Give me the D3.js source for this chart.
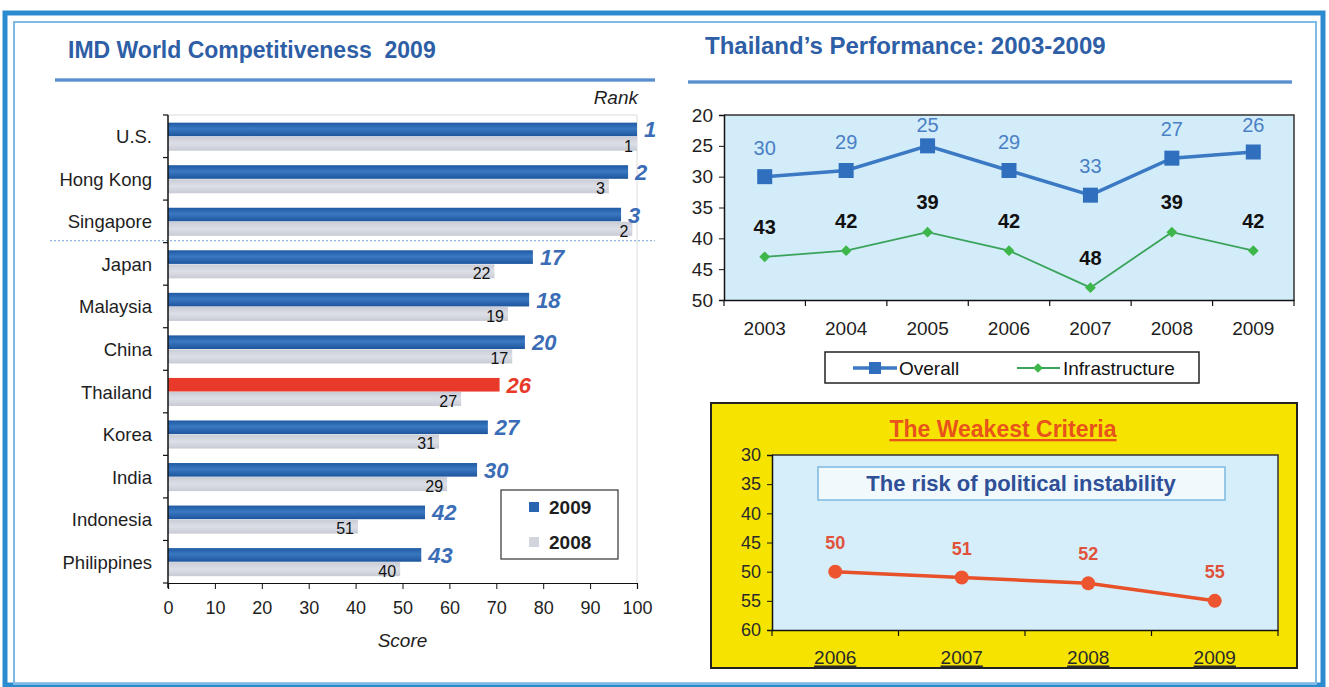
<!DOCTYPE html>
<html>
<head>
<meta charset="utf-8">
<script src="https://cdn.jsdelivr.net/npm/d3@7"></script>
<style>
  body { margin: 0; background: #fff; }
  text { font-family: Arial, "Liberation Sans", sans-serif; }
</style>
</head>
<body>
<script>

// ==== data ====
var countries = ["U.S.", "Hong Kong", "Singapore", "Japan", "Malaysia", "China",
                 "Thailand", "Korea", "India", "Indonesia", "Philippines"];
var score2009 = [100, 98.1, 96.6, 77.8, 77.0, 76.1, 70.7, 68.2, 65.9, 54.8, 54.0];
var score2008 = [100, 94.0, 99.0, 69.6, 72.5, 73.4, 62.5, 57.8, 59.5, 40.5, 49.5];
var rank2009 = [1, 2, 3, 17, 18, 20, 26, 27, 30, 42, 43];
var rank2008 = [1, 3, 2, 22, 19, 17, 27, 31, 29, 51, 40];
var scoreTicks = [0, 10, 20, 30, 40, 50, 60, 70, 80, 90, 100];

var years = ["2003", "2004", "2005", "2006", "2007", "2008", "2009"];
var overall = [30, 29, 25, 29, 33, 27, 26];
var infra = [43, 42, 39, 42, 48, 39, 42];
var perfTicks = [20, 25, 30, 35, 40, 45, 50];

var weakYears = ["2006", "2007", "2008", "2009"];
var weakRank = [50, 51, 52, 55];
var weakTicks = [30, 35, 40, 45, 50, 55, 60];


var W = 1329, H = 687;

var title_col = "#2d5ea6",
    bar_blue = "#2a66b0",
    bar_red = "#e8392b",
    bar_gray = "#d2d5dd",
    rank_blue = "#3b6db6",
    txt = "#1e1e1e",
    font = "Arial, 'Liberation Sans', sans-serif";

var svg = d3.select("body")
    .append("svg")
    .attr("width", W)
    .attr("height", H);

var defs = svg.append("defs");

var gBlue = defs.append("linearGradient").attr("id", "gBlue")
    .attr("x1", 0).attr("y1", 0).attr("x2", 0).attr("y2", 1);
gBlue.append("stop").attr("offset", "0%").attr("stop-color", "#1f5aa3");
gBlue.append("stop").attr("offset", "45%").attr("stop-color", "#3a78c2");
gBlue.append("stop").attr("offset", "100%").attr("stop-color", "#1d559c");

var gGray = defs.append("linearGradient").attr("id", "gGray")
    .attr("x1", 0).attr("y1", 0).attr("x2", 0).attr("y2", 1);
gGray.append("stop").attr("offset", "0%").attr("stop-color", "#c9ccd6");
gGray.append("stop").attr("offset", "50%").attr("stop-color", "#dcdfe6");
gGray.append("stop").attr("offset", "100%").attr("stop-color", "#c8cbd4");

var gRule = defs.append("linearGradient").attr("id", "gRule")
    .attr("x1", 0).attr("y1", 0).attr("x2", 0).attr("y2", 1);
gRule.append("stop").attr("offset", "0%").attr("stop-color", "#a9c6e8");
gRule.append("stop").attr("offset", "50%").attr("stop-color", "#3f7cc4");
gRule.append("stop").attr("offset", "100%").attr("stop-color", "#a9c6e8");

// ==== outer frame ====
svg.append("rect")
    .attr("x", 5).attr("y", 13)
    .attr("width", 1318).attr("height", 672)
    .attr("fill", "none")
    .attr("stroke", "#2c8bcf")
    .attr("stroke-width", 5);

svg.append("rect")
    .attr("x", 14).attr("y", 22)
    .attr("width", 1302).attr("height", 662)
    .attr("fill", "none")
    .attr("stroke", "#7dbbe6")
    .attr("stroke-width", 2);

// ==== titles ====
svg.append("text")
    .text("IMD World Competitiveness  2009")
    .attr("x", 68).attr("y", 58)
    .attr("font-size", "23px")
    .attr("font-weight", 700)
    .attr("fill", title_col)
    .style("white-space", "pre");

svg.append("rect")
    .attr("x", 55).attr("y", 78)
    .attr("width", 600).attr("height", 4)
    .attr("fill", "url(#gRule)");

svg.append("text")
    .text("Thailand\u2019s Performance: 2003-2009")
    .attr("x", 705).attr("y", 54)
    .attr("font-size", "24px")
    .attr("font-weight", 700)
    .attr("fill", title_col);

svg.append("rect")
    .attr("x", 688).attr("y", 80)
    .attr("width", 604).attr("height", 4)
    .attr("fill", "url(#gRule)");


// ==== left: bar chart ====
var bx0 = 168, bx1 = 637, by0 = 115, by1 = 583;

var xScore = d3.scaleLinear()
    .domain([0, 100])
    .range([bx0, bx1]);

var yCountry = d3.scaleBand()
    .domain(countries)
    .range([by0, by1]);

var bw = yCountry.bandwidth();

var left = svg.append("g");

// plot frame (light)
left.append("path")
    .attr("d", "M" + bx0 + "," + by0 + "H" + bx1 + "V" + by1)
    .attr("fill", "none")
    .attr("stroke", "#dcdcdc")
    .attr("stroke-width", 1);

// separator between top 3 and the rest
left.append("line")
    .attr("x1", 50).attr("x2", 655)
    .attr("y1", yCountry("Japan") - 2).attr("y2", yCountry("Japan") - 2)
    .attr("stroke", "#8fb4dc")
    .attr("stroke-width", 1.2)
    .attr("stroke-dasharray", "2,2");

var rows = left.selectAll("g.row")
    .data(countries)
    .enter().append("g")
    .attr("class", "row")
    .attr("transform", function(d) { return "translate(0," + yCountry(d) + ")"; });

rows.append("rect")
    .attr("x", bx0)
    .attr("y", bw * 0.18)
    .attr("width", function(d, i) { return xScore(score2009[i]) - bx0; })
    .attr("height", bw * 0.32)
    .attr("fill", function(d) { return d == "Thailand" ? bar_red : "url(#gBlue)"; });

rows.append("rect")
    .attr("x", bx0)
    .attr("y", bw * 0.51)
    .attr("width", function(d, i) { return xScore(score2008[i]) - bx0; })
    .attr("height", bw * 0.33)
    .attr("fill", "url(#gGray)");

rows.append("text")
    .text(function(d, i) { return rank2009[i]; })
    .attr("x", function(d, i) { return xScore(score2009[i]) + 7; })
    .attr("y", bw * 0.34 + 8)
    .attr("font-size", "22px")
    .attr("font-weight", 700)
    .attr("font-style", "italic")
    .attr("fill", function(d) { return d == "Thailand" ? bar_red : rank_blue; });

rows.append("text")
    .text(function(d, i) { return rank2008[i]; })
    .attr("x", function(d, i) { return xScore(score2008[i]) - 4; })
    .attr("y", bw * 0.86)
    .attr("text-anchor", "end")
    .attr("font-size", "16px")
    .attr("fill", "#111");

rows.append("text")
    .text(function(d) { return d; })
    .attr("x", 152)
    .attr("y", bw * 0.5 + 7)
    .attr("text-anchor", "end")
    .attr("font-size", "18.5px")
    .attr("fill", txt);

// axes
left.append("line")
    .attr("x1", bx0).attr("x2", bx0)
    .attr("y1", by0).attr("y2", by1 + 5)
    .attr("stroke", "#111").attr("stroke-width", 1.5);

left.selectAll("line.ytick")
    .data(countries.concat(["end"]))
    .enter().append("line")
    .attr("class", "ytick")
    .attr("x1", bx0 - 5).attr("x2", bx0)
    .attr("y1", function(d) { return d == "end" ? by1 : yCountry(d); })
    .attr("y2", function(d) { return d == "end" ? by1 : yCountry(d); })
    .attr("stroke", "#111").attr("stroke-width", 1.2);

var xAxis = left.append("g")
    .attr("transform", "translate(0," + by1 + ")")
    .call(d3.axisBottom(xScore).tickValues(scoreTicks).tickSize(6).tickPadding(12));
xAxis.select(".domain").attr("stroke", "#111").attr("stroke-width", 1.2);
xAxis.selectAll(".tick line").attr("stroke", "#111");
xAxis.selectAll("text")
    .attr("font-size", "18px")
    .attr("font-family", font)
    .attr("fill", txt);

left.append("text")
    .text("Score")
    .attr("x", xScore(50)).attr("y", 647)
    .attr("text-anchor", "middle")
    .attr("font-size", "19px")
    .attr("font-style", "italic")
    .attr("fill", txt);

left.append("text")
    .text("Rank")
    .attr("x", 638).attr("y", 104)
    .attr("text-anchor", "end")
    .attr("font-size", "19px")
    .attr("font-style", "italic")
    .attr("fill", txt);

// legend
var leg = left.append("g").attr("transform", "translate(501,490)");
leg.append("rect")
    .attr("width", 117).attr("height", 69)
    .attr("fill", "#fff")
    .attr("stroke", "#333").attr("stroke-width", 1.2);
leg.append("rect").attr("x", 28).attr("y", 12).attr("width", 10).attr("height", 10).attr("fill", bar_blue);
leg.append("rect").attr("x", 28).attr("y", 47).attr("width", 10).attr("height", 10).attr("fill", bar_gray);
leg.append("text").text("2009").attr("x", 48).attr("y", 24)
    .attr("font-size", "19px").attr("font-weight", 700).attr("fill", txt);
leg.append("text").text("2008").attr("x", 48).attr("y", 59)
    .attr("font-size", "19px").attr("font-weight", 700).attr("fill", txt);


// ==== right top: line chart ====
var px0 = 724, px1 = 1294, py0 = 115, py1 = 300;

var xYear = d3.scaleBand()
    .domain(years)
    .range([px0, px1]);

var yRank = d3.scaleLinear()
    .domain([20, 50])
    .range([py0, py1]);

var perf = svg.append("g");

perf.append("rect")
    .attr("x", px0).attr("y", py0)
    .attr("width", px1 - px0).attr("height", py1 - py0)
    .attr("fill", "#d3ecf9");

perf.append("path")
    .attr("d", "M" + px0 + "," + py0 + "H" + px1 + "V" + py1)
    .attr("fill", "none")
    .attr("stroke", "#333").attr("stroke-width", 1.5);

var yAx = perf.append("g")
    .attr("transform", "translate(" + px0 + ",0)")
    .call(d3.axisLeft(yRank).tickValues(perfTicks).tickSize(5).tickPadding(6));
yAx.select(".domain").attr("stroke", "#111").attr("stroke-width", 1.5);
yAx.selectAll(".tick line").attr("stroke", "#111");
yAx.selectAll("text")
    .attr("font-size", "19px")
    .attr("font-family", font)
    .attr("fill", txt);

var xAx = perf.append("g")
    .attr("transform", "translate(0," + py1 + ")")
    .call(d3.axisBottom(xYear).tickSize(0).tickPadding(22));
xAx.select(".domain").attr("stroke", "#111").attr("stroke-width", 1.5);
xAx.selectAll("text")
    .attr("font-size", "19px")
    .attr("font-family", font)
    .attr("fill", txt);

perf.selectAll("line.xtick")
    .data(years.concat(["end"]))
    .enter().append("line")
    .attr("class", "xtick")
    .attr("x1", function(d) { return d == "end" ? px1 : xYear(d); })
    .attr("x2", function(d) { return d == "end" ? px1 : xYear(d); })
    .attr("y1", py1).attr("y2", py1 + 6)
    .attr("stroke", "#111").attr("stroke-width", 1.2);

var cx = function(d, i) { return xYear(years[i]) + xYear.bandwidth() / 2; };

var line = d3.line()
    .x(cx)
    .y(function(d) { return yRank(d); });

perf.append("path")
    .datum(infra)
    .attr("d", line)
    .attr("fill", "none")
    .attr("stroke", "#3aa35c")
    .attr("stroke-width", 1.8);

perf.selectAll("path.dia")
    .data(infra)
    .enter().append("path")
    .attr("class", "dia")
    .attr("d", d3.symbol().type(d3.symbolDiamond2).size(75))
    .attr("transform", function(d, i) { return "translate(" + cx(d, i) + "," + yRank(d) + ")"; })
    .attr("fill", "#3db64a");

perf.selectAll("text.infraLab")
    .data(infra)
    .enter().append("text")
    .attr("class", "infraLab")
    .text(function(d) { return d; })
    .attr("x", cx)
    .attr("y", function(d) { return yRank(d) - 23; })
    .attr("text-anchor", "middle")
    .attr("font-size", "20px")
    .attr("font-weight", 700)
    .attr("fill", "#111");

perf.append("path")
    .datum(overall)
    .attr("d", line)
    .attr("fill", "none")
    .attr("stroke", "#3b79c4")
    .attr("stroke-width", 3.5);

perf.selectAll("rect.sq")
    .data(overall)
    .enter().append("rect")
    .attr("class", "sq")
    .attr("x", function(d, i) { return cx(d, i) - 7.5; })
    .attr("y", function(d) { return yRank(d) - 7.5; })
    .attr("width", 15).attr("height", 15)
    .attr("fill", "#2f6fbd");

// labels pushed down when they would leave the plot
perf.selectAll("text.ovLab")
    .data(overall)
    .enter().append("text")
    .attr("class", "ovLab")
    .text(function(d) { return d; })
    .attr("x", cx)
    .attr("y", function(d) { return Math.max(yRank(d) - 22, py0 + 17); })
    .attr("text-anchor", "middle")
    .attr("font-size", "20px")
    .attr("fill", "#4a80c4");

// legend
var leg2 = perf.append("g").attr("transform", "translate(825,352)");
leg2.append("rect")
    .attr("width", 374).attr("height", 31)
    .attr("fill", "#fff")
    .attr("stroke", "#222").attr("stroke-width", 1.5);
leg2.append("line").attr("x1", 28).attr("x2", 72).attr("y1", 16).attr("y2", 16)
    .attr("stroke", "#3b79c4").attr("stroke-width", 3.5);
leg2.append("rect").attr("x", 44).attr("y", 10).attr("width", 12).attr("height", 12).attr("fill", "#2f6fbd");
leg2.append("text").text("Overall").attr("x", 74).attr("y", 23)
    .attr("font-size", "19px").attr("fill", "#111");
leg2.append("line").attr("x1", 192).attr("x2", 235).attr("y1", 16).attr("y2", 16)
    .attr("stroke", "#3aa35c").attr("stroke-width", 1.8);
leg2.append("path")
    .attr("d", d3.symbol().type(d3.symbolDiamond2).size(60))
    .attr("transform", "translate(213,16)")
    .attr("fill", "#3db64a");
leg2.append("text").text("Infrastructure").attr("x", 238).attr("y", 23)
    .attr("font-size", "19px").attr("fill", "#111");


// ==== right bottom: the weakest criteria ====
var wx0 = 772, wx1 = 1278, wy0 = 455, wy1 = 630;

var weak = svg.append("g");

weak.append("rect")
    .attr("x", 711).attr("y", 403)
    .attr("width", 586).attr("height", 265)
    .attr("fill", "#f6e400")
    .attr("stroke", "#222").attr("stroke-width", 2);

weak.append("text")
    .text("The Weakest Criteria")
    .attr("x", 1003).attr("y", 437)
    .attr("text-anchor", "middle")
    .attr("font-size", "23px")
    .attr("font-weight", 700)
    .attr("text-decoration", "underline")
    .attr("fill", "#e8531c");

var xW = d3.scaleBand()
    .domain(weakYears)
    .range([wx0, wx1]);

var yW = d3.scaleLinear()
    .domain([30, 60])
    .range([wy0, wy1]);

weak.append("rect")
    .attr("x", wx0).attr("y", wy0)
    .attr("width", wx1 - wx0).attr("height", wy1 - wy0)
    .attr("fill", "#d6eef9");

weak.append("path")
    .attr("d", "M" + wx0 + "," + wy0 + "H" + wx1 + "V" + wy1)
    .attr("fill", "none")
    .attr("stroke", "#333").attr("stroke-width", 1.5);

var yWAx = weak.append("g")
    .attr("transform", "translate(" + wx0 + ",0)")
    .call(d3.axisLeft(yW).tickValues(weakTicks).tickSize(5).tickPadding(6));
yWAx.select(".domain").attr("stroke", "#111").attr("stroke-width", 1.5);
yWAx.selectAll(".tick line").attr("stroke", "#111");
yWAx.selectAll("text")
    .attr("font-size", "18px")
    .attr("font-family", font)
    .attr("fill", "#2a2a2a");

var xWAx = weak.append("g")
    .attr("transform", "translate(0," + wy1 + ")")
    .call(d3.axisBottom(xW).tickSize(0).tickPadding(21));
xWAx.select(".domain").attr("stroke", "#111").attr("stroke-width", 1.5);
xWAx.selectAll("text")
    .attr("font-size", "19px")
    .attr("font-family", font)
    .attr("text-decoration", "underline")
    .attr("fill", "#2a2a2a");

weak.selectAll("line.xtick")
    .data(weakYears.concat(["end"]))
    .enter().append("line")
    .attr("class", "xtick")
    .attr("x1", function(d) { return d == "end" ? wx1 : xW(d); })
    .attr("x2", function(d) { return d == "end" ? wx1 : xW(d); })
    .attr("y1", wy1).attr("y2", wy1 + 6)
    .attr("stroke", "#111").attr("stroke-width", 1.2);

// caption box
weak.append("rect")
    .attr("x", 818).attr("y", 467)
    .attr("width", 407).attr("height", 33)
    .attr("fill", "#f1f9fd")
    .attr("stroke", "#7db9df").attr("stroke-width", 1.5);

weak.append("text")
    .text("The risk of political instability")
    .attr("x", 1021).attr("y", 491)
    .attr("text-anchor", "middle")
    .attr("font-size", "22px")
    .attr("font-weight", 700)
    .attr("fill", "#2f4f97");

var wcx = function(d, i) { return xW(weakYears[i]) + xW.bandwidth() / 2; };

weak.append("path")
    .datum(weakRank)
    .attr("d", d3.line().x(wcx).y(function(d) { return yW(d); }))
    .attr("fill", "none")
    .attr("stroke", "#e8502a")
    .attr("stroke-width", 3.5);

weak.selectAll("circle.pt")
    .data(weakRank)
    .enter().append("circle")
    .attr("class", "pt")
    .attr("cx", wcx)
    .attr("cy", function(d) { return yW(d); })
    .attr("r", 7)
    .attr("fill", "#ec5530");

weak.selectAll("text.wLab")
    .data(weakRank)
    .enter().append("text")
    .attr("class", "wLab")
    .text(function(d) { return d; })
    .attr("x", wcx)
    .attr("y", function(d) { return yW(d) - 23; })
    .attr("text-anchor", "middle")
    .attr("font-size", "18px")
    .attr("font-weight", 700)
    .attr("fill", "#e0523c");

</script>
</body>
</html>
